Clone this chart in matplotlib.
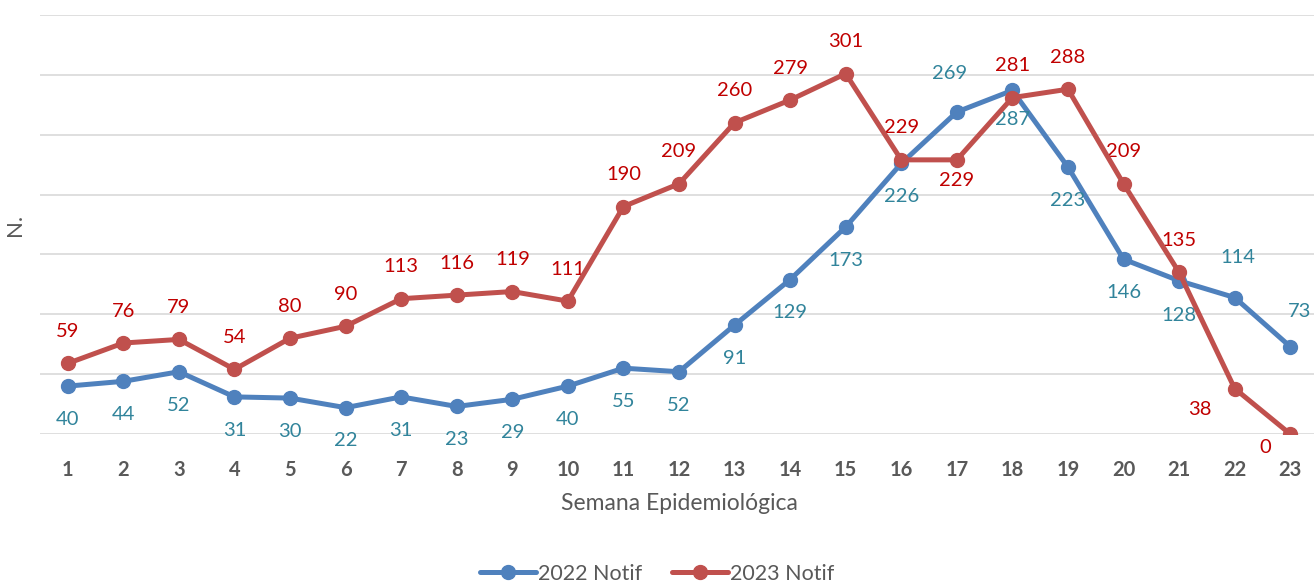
import numpy as np
import matplotlib.pyplot as plt

# data
weeks = list(range(1, 24))
notif_2022 = [40, 44, 52, 31, 30, 22, 31, 23, 29, 40, 55, 52, 91, 129,
              173, 226, 269, 287, 223, 146, 128, 114, 73]
notif_2023 = [59, 76, 79, 54, 80, 90, 113, 116, 119, 111, 190, 209, 260, 279,
              301, 229, 229, 281, 288, 209, 135, 38, 0]
y_ticks = [0, 50, 100, 150, 200, 250, 300, 350]

BLUE = '#4F81BD'
RED = '#C0504D'
BLUE_TXT = '#31849B'
RED_TXT = '#C00000'
GRAY = '#595959'

plt.rcParams['font.family'] = ['Lato', 'DejaVu Sans']

# label offsets in points (dx, dy); defaults: 2022 below, 2023 above
off_2022 = {17: (-5, 28), 18: (0, -21), 22: (2, 29), 23: (7, 25), 21: (0, -25)}
off_2023 = {17: (0, -15), 22: (-25, -15), 23: (-18, -10)}

fig = plt.figure(figsize=(13.14, 5.85), dpi=100)
ax = fig.add_axes([40 / 1314, 151 / 585, 1278 / 1314, 419 / 585])

ax.plot(weeks, notif_2022, color=BLUE, lw=3.6, marker='o', ms=10,
        label='2022 Notif', zorder=3, solid_capstyle='round')
ax.plot(weeks, notif_2023, color=RED, lw=3.6, marker='o', ms=10,
        label='2023 Notif', zorder=4, solid_capstyle='round')

for w, v in zip(weeks, notif_2022):
    dx, dy = off_2022.get(w, (0, -24))
    ax.annotate(str(v), (w, v), xytext=(dx, dy), textcoords='offset points',
                ha='center', va='center', color=BLUE_TXT, fontsize=14.5)
for w, v in zip(weeks, notif_2023):
    dx, dy = off_2023.get(w, (0, 23))
    ax.annotate(str(v), (w, v), xytext=(dx, dy), textcoords='offset points',
                ha='center', va='center', color=RED_TXT, fontsize=14.5)

ax.set_xlim(0.5, 23.5)
ax.set_ylim(0, 350)
ax.set_yticks(y_ticks)
ax.set_yticklabels([])
ax.set_xticks(weeks)
ax.grid(axis='y', color='#D9D9D9', lw=1.2)
ax.set_axisbelow(True)
for s in ax.spines.values():
    s.set_visible(False)
ax.tick_params(axis='both', length=0)
ax.tick_params(axis='x', pad=19, labelsize=14.5, labelcolor=GRAY)
for t in ax.get_xticklabels():
    t.set_fontweight('bold')

ax.set_xlabel('Semana Epidemiológica', fontsize=16.5, color=GRAY)
ax.xaxis.set_label_coords(0.5, -0.14)
ax.set_ylabel('N.', fontsize=16, color=GRAY)
ax.yaxis.set_label_coords(-0.012, 0.5)

fig.legend(loc='center', bbox_to_anchor=(0.5, 11 / 585), ncol=2, frameon=False,
           fontsize=15.5, handlelength=2.6, handletextpad=0.1,
           columnspacing=1.4, labelcolor=GRAY)

fig.savefig('out.png', dpi=100)
